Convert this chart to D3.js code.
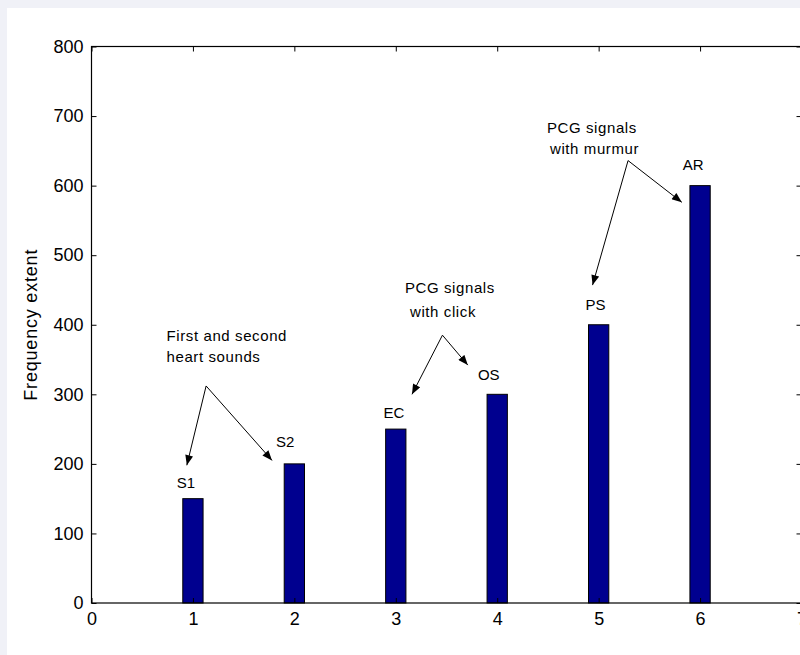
<!DOCTYPE html>
<html>
<head>
<meta charset="utf-8">
<script src="https://cdn.jsdelivr.net/npm/d3@7"></script>
<style>
  body { margin: 0; background: #f0f1f7; }
  svg { display: block; }
  text { font-family: "Liberation Sans", Arial, sans-serif; fill: #000; }
</style>
</head>
<body>
<svg width="800" height="655"></svg>
<script>
// bar data
var positions = [1, 2, 3, 4, 5, 6];
var values = [150, 200, 250, 300, 400, 600];
var categories = ["S1", "S2", "EC", "OS", "PS", "AR"];

// where each bar name sits (data units, left/baseline)
var labelX = [0.84, 1.82, 2.88, 3.81, 4.87, 5.83];
var labelY = [165, 224, 266, 320, 421, 622];

var xTicks = [0, 1, 2, 3, 4, 5, 6, 7];
var yTicks = [0, 100, 200, 300, 400, 500, 600, 700, 800];

// annotation text, one entry per line
var noteText = ["First and second", "heart sounds", "PCG signals", "with click", "PCG signals", "with murmur"];
var noteX = [0.74, 0.74, 3.09, 3.14, 4.49, 4.52];
var noteY = [377, 346, 445, 411, 676, 646];

// arrows: from apex to tip
var arrowFromX = [1.13, 1.13, 3.46, 3.46, 5.29, 5.29];
var arrowFromY = [312, 312, 385, 385, 636, 636];
var arrowToX = [0.94, 1.78, 3.16, 3.71, 4.94, 5.82];
var arrowToY = [198, 205, 300, 342, 457, 576];

var svg = d3.select("svg");
svg.append("rect")
    .attr("x", 7).attr("y", 8)
    .attr("width", 793).attr("height", 647)
    .attr("fill", "#ffffff");

var plotL = 91.5, plotR = 801.5, plotT = 46.5, plotB = 603;
var x = d3.scaleLinear().domain([0, 7]).range([plotL, plotR]);
var y = d3.scaleLinear().domain([0, 800]).range([plotB, plotT]);

svg.append("defs").append("marker")
    .attr("id", "head")
    .attr("viewBox", "0 0 10 8")
    .attr("refX", 10).attr("refY", 4)
    .attr("markerWidth", 11).attr("markerHeight", 8)
    .attr("markerUnits", "userSpaceOnUse")
    .attr("orient", "auto")
  .append("path")
    .attr("d", "M0,0L10,4L0,8Z")
    .attr("fill", "#000");

// bars
var bw = x(0.2) - x(0);
svg.selectAll("rect.bar")
    .data(values)
  .enter().append("rect")
    .attr("class", "bar")
    .attr("x", (d, i) => x(positions[i]) - bw / 2)
    .attr("y", d => y(d))
    .attr("width", bw)
    .attr("height", d => y(0) - y(d))
    .attr("fill", "#00008f")
    .attr("stroke", "#000")
    .attr("stroke-width", 1);

// axes, ticks inside like matlab
function styleAxis(g) {
    g.select(".domain").remove();
    g.selectAll("line").attr("stroke", "#000");
    g.selectAll("text").style("font-size", "18px").attr("fill", "#000");
}
svg.append("g")
    .attr("transform", "translate(0," + plotB + ")")
    .call(d3.axisBottom(x).tickValues(xTicks).tickFormat(d3.format("d")).tickSize(-5).tickPadding(9))
    .call(styleAxis);
svg.append("g")
    .attr("transform", "translate(" + plotL + ",0)")
    .call(d3.axisLeft(y).tickValues(yTicks).tickFormat(d3.format("d")).tickSize(-5).tickPadding(8))
    .call(styleAxis);
svg.append("g")
    .attr("transform", "translate(0," + plotT + ")")
    .call(d3.axisTop(x).tickValues(xTicks).tickFormat("").tickSize(-5))
    .call(styleAxis);
svg.append("g")
    .attr("transform", "translate(" + plotR + ",0)")
    .call(d3.axisRight(y).tickValues(yTicks).tickFormat("").tickSize(-5))
    .call(styleAxis);

svg.append("rect")
    .attr("x", plotL).attr("y", plotT)
    .attr("width", plotR - plotL).attr("height", plotB - plotT)
    .attr("fill", "none")
    .attr("stroke", "#000")
    .attr("stroke-width", 1.2);

svg.append("text")
    .attr("transform", "translate(37," + ((plotT + plotB) / 2) + ") rotate(-90)")
    .attr("text-anchor", "middle")
    .style("font-size", "18px")
    .style("letter-spacing", "0.8px")
    .text("Frequency extent");

// bar names
svg.selectAll("text.name")
    .data(categories)
  .enter().append("text")
    .attr("class", "name")
    .attr("x", (d, i) => x(labelX[i]))
    .attr("y", (d, i) => y(labelY[i]))
    .style("font-size", "15px")
    .text(d => d);

// notes and arrows
svg.selectAll("text.note")
    .data(noteText)
  .enter().append("text")
    .attr("class", "note")
    .attr("x", (d, i) => x(noteX[i]))
    .attr("y", (d, i) => y(noteY[i]))
    .style("font-size", "15px")
    .style("letter-spacing", "0.6px")
    .text(d => d);

svg.selectAll("line.arrow")
    .data(arrowToX)
  .enter().append("line")
    .attr("class", "arrow")
    .attr("x1", (d, i) => x(arrowFromX[i]))
    .attr("y1", (d, i) => y(arrowFromY[i]))
    .attr("x2", d => x(d))
    .attr("y2", (d, i) => y(arrowToY[i]))
    .attr("stroke", "#000")
    .attr("stroke-width", 1)
    .attr("marker-end", "url(#head)");
</script>
</body>
</html>
